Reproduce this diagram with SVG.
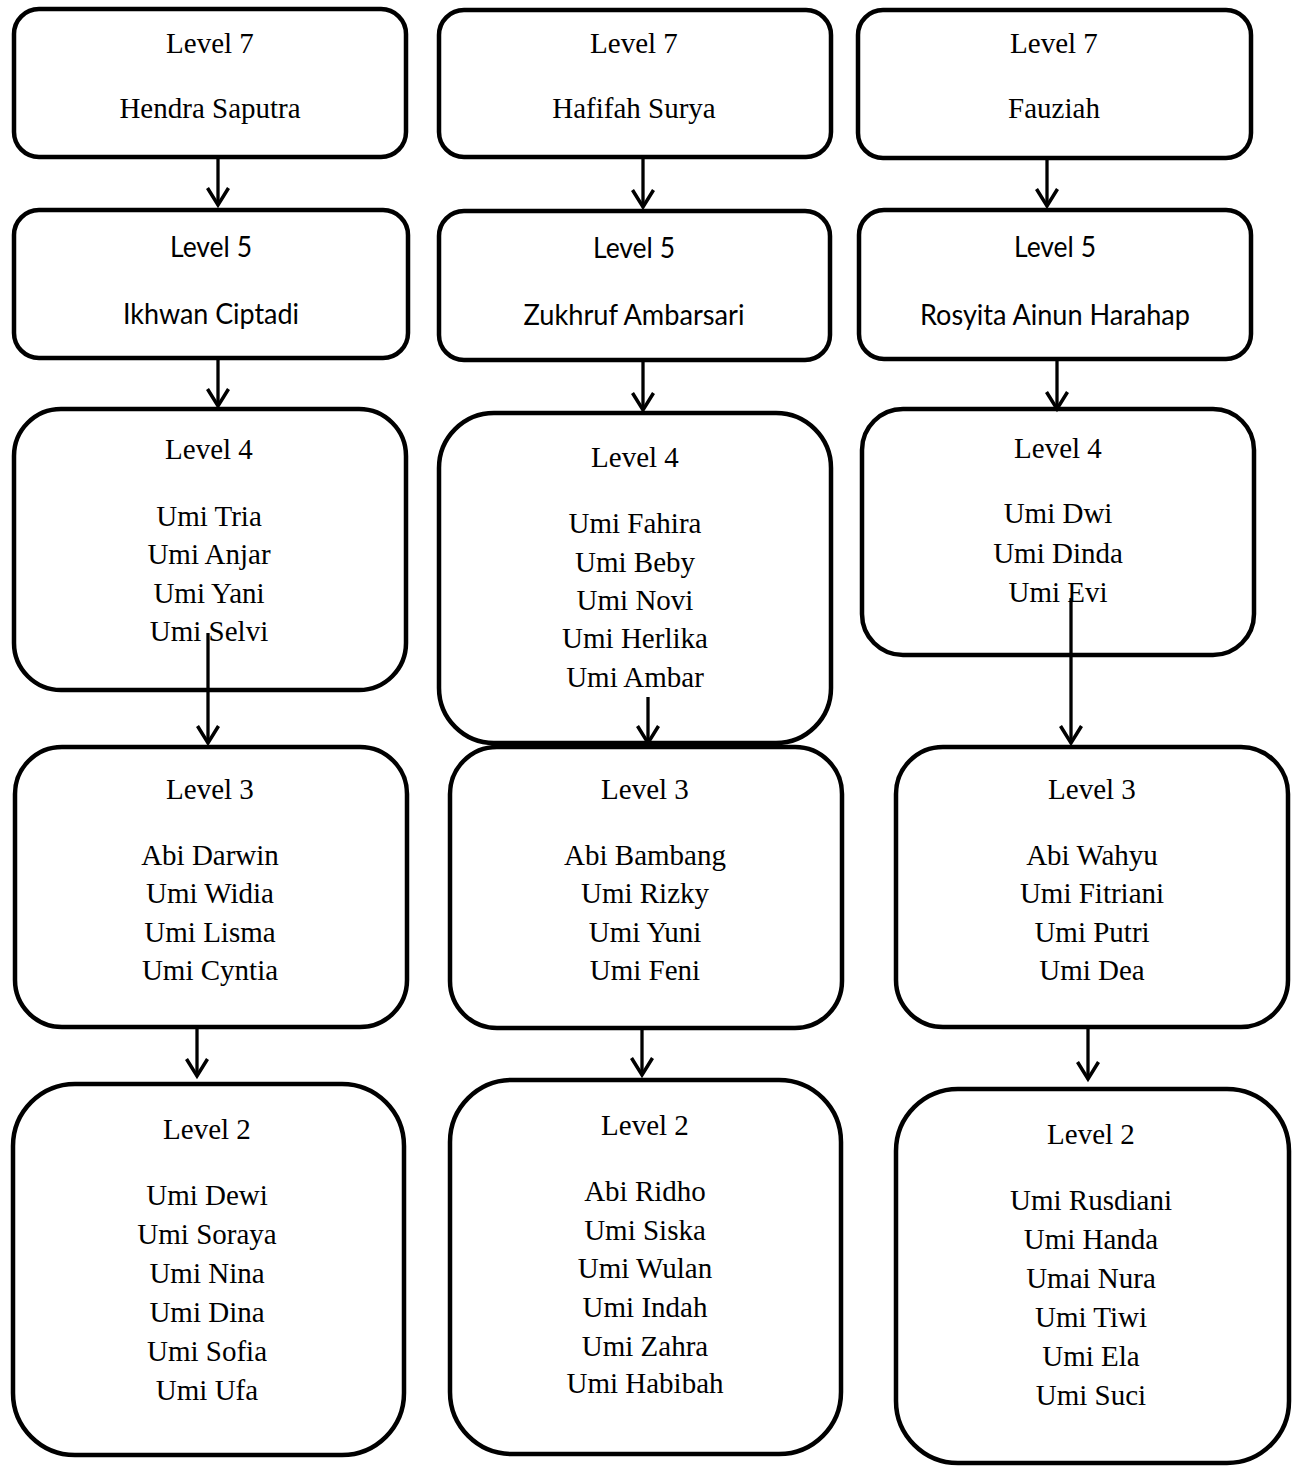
<svg xmlns="http://www.w3.org/2000/svg" width="1299" height="1466" viewBox="0 0 1299 1466">
<style>
.box{fill:#fff;stroke:#000;stroke-width:4.5}
.t{font-family:"Liberation Serif","Times New Roman",serif;font-size:29px;text-anchor:middle;fill:#000}
.s{font-family:Lato,"Open Sans",sans-serif;font-size:29px;text-anchor:middle;fill:#000}
.c{stroke:#000;stroke-width:3.3;fill:none}
</style>
<defs>
<marker id="ah" markerUnits="userSpaceOnUse" viewBox="-22 -15 26 30" refX="0" refY="0" markerWidth="26" markerHeight="30" orient="auto" overflow="visible">
<path d="M-17,-10.5 L0,0 L-17,10.5" fill="none" stroke="#000" stroke-width="3.5" stroke-linejoin="miter"/>
</marker>
</defs>
<rect width="1299" height="1466" fill="#fff"/>

<g id="l7a"><rect class="box" x="14" y="9" width="392" height="148" rx="25"/>
<text class="t" x="210" y="53">Level 7</text><text class="t" x="210" y="118">Hendra Saputra</text></g>
<g id="l7b"><rect class="box" x="439" y="10" width="392" height="147" rx="25"/>
<text class="t" x="634" y="53">Level 7</text><text class="t" x="634" y="118">Hafifah Surya</text></g>
<g id="l7c"><rect class="box" x="858" y="10" width="393" height="148" rx="25"/>
<text class="t" x="1054" y="53">Level 7</text><text class="t" x="1054" y="118">Fauziah</text></g>

<g id="l5a"><rect class="box" x="14" y="210" width="394" height="148" rx="25"/>
<text class="s" x="211" y="257" textLength="82" lengthAdjust="spacingAndGlyphs">Level 5</text><text class="s" x="211" y="324" textLength="176" lengthAdjust="spacingAndGlyphs">Ikhwan Ciptadi</text></g>
<g id="l5b"><rect class="box" x="439" y="211" width="391" height="149" rx="25"/>
<text class="s" x="634" y="258" textLength="82" lengthAdjust="spacingAndGlyphs">Level 5</text><text class="s" x="634" y="325" textLength="221" lengthAdjust="spacingAndGlyphs">Zukhruf Ambarsari</text></g>
<g id="l5c"><rect class="box" x="859" y="210" width="392" height="149" rx="25"/>
<text class="s" x="1055" y="257" textLength="82" lengthAdjust="spacingAndGlyphs">Level 5</text><text class="s" x="1055" y="325" textLength="270" lengthAdjust="spacingAndGlyphs">Rosyita Ainun Harahap</text></g>

<g id="l4a"><rect class="box" x="14" y="409" width="392" height="281" rx="47"/>
<text class="t" x="209" y="459">Level 4</text>
<text class="t" x="209" y="526">Umi Tria</text><text class="t" x="209" y="564">Umi Anjar</text><text class="t" x="209" y="603">Umi Yani</text><text class="t" x="209" y="641">Umi Selvi</text></g>
<g id="l4b"><rect class="box" x="439" y="413" width="392" height="330" rx="55"/>
<text class="t" x="635" y="467">Level 4</text>
<text class="t" x="635" y="533">Umi Fahira</text><text class="t" x="635" y="572">Umi Beby</text><text class="t" x="635" y="610">Umi Novi</text><text class="t" x="635" y="648">Umi Herlika</text><text class="t" x="635" y="687">Umi Ambar</text></g>
<g id="l4c"><rect class="box" x="862" y="409" width="392" height="246" rx="41"/>
<text class="t" x="1058" y="458">Level 4</text>
<text class="t" x="1058" y="523">Umi Dwi</text><text class="t" x="1058" y="563">Umi Dinda</text><text class="t" x="1058" y="602">Umi Evi</text></g>

<g id="l3a"><rect class="box" x="15" y="747" width="392" height="280" rx="47"/>
<text class="t" x="210" y="799">Level 3</text>
<text class="t" x="210" y="865">Abi Darwin</text><text class="t" x="210" y="903">Umi Widia</text><text class="t" x="210" y="942">Umi Lisma</text><text class="t" x="210" y="980">Umi Cyntia</text></g>
<g id="l3b"><rect class="box" x="450" y="747" width="392" height="281" rx="47"/>
<text class="t" x="645" y="799">Level 3</text>
<text class="t" x="645" y="865">Abi Bambang</text><text class="t" x="645" y="903">Umi Rizky</text><text class="t" x="645" y="942">Umi Yuni</text><text class="t" x="645" y="980">Umi Feni</text></g>
<g id="l3c"><rect class="box" x="896" y="747" width="392" height="280" rx="47"/>
<text class="t" x="1092" y="799">Level 3</text>
<text class="t" x="1092" y="865">Abi Wahyu</text><text class="t" x="1092" y="903">Umi Fitriani</text><text class="t" x="1092" y="942">Umi Putri</text><text class="t" x="1092" y="980">Umi Dea</text></g>

<g id="l2a"><rect class="box" x="13" y="1084" width="391" height="371" rx="62"/>
<text class="t" x="207" y="1139">Level 2</text>
<text class="t" x="207" y="1205">Umi Dewi</text><text class="t" x="207" y="1244">Umi Soraya</text><text class="t" x="207" y="1283">Umi Nina</text><text class="t" x="207" y="1322">Umi Dina</text><text class="t" x="207" y="1361">Umi Sofia</text><text class="t" x="207" y="1400">Umi Ufa</text></g>
<g id="l2b"><rect class="box" x="450" y="1080" width="391" height="374" rx="62"/>
<text class="t" x="645" y="1135">Level 2</text>
<text class="t" x="645" y="1201">Abi Ridho</text><text class="t" x="645" y="1240">Umi Siska</text><text class="t" x="645" y="1278">Umi Wulan</text><text class="t" x="645" y="1317">Umi Indah</text><text class="t" x="645" y="1356">Umi Zahra</text><text class="t" x="645" y="1393">Umi Habibah</text></g>
<g id="l2c"><rect class="box" x="896" y="1089" width="393" height="374" rx="62"/>
<text class="t" x="1091" y="1144">Level 2</text>
<text class="t" x="1091" y="1210">Umi Rusdiani</text><text class="t" x="1091" y="1249">Umi Handa</text><text class="t" x="1091" y="1288">Umai Nura</text><text class="t" x="1091" y="1327">Umi Tiwi</text><text class="t" x="1091" y="1366">Umi Ela</text><text class="t" x="1091" y="1405">Umi Suci</text></g>

<g id="connectors">
<line class="c" x1="218" y1="159" x2="218" y2="205" marker-end="url(#ah)"/>
<line class="c" x1="643" y1="159" x2="643" y2="207" marker-end="url(#ah)"/>
<line class="c" x1="1047" y1="160" x2="1047" y2="206" marker-end="url(#ah)"/>
<line class="c" x1="218" y1="360" x2="218" y2="406" marker-end="url(#ah)"/>
<line class="c" x1="643" y1="362" x2="643" y2="410" marker-end="url(#ah)"/>
<line class="c" x1="1057" y1="361" x2="1057" y2="409" marker-end="url(#ah)"/>
<line class="c" x1="208" y1="633" x2="208" y2="743" marker-end="url(#ah)"/>
<line class="c" x1="648" y1="697" x2="648" y2="743" marker-end="url(#ah)"/>
<line class="c" x1="1071" y1="598" x2="1071" y2="743" marker-end="url(#ah)"/>
<line class="c" x1="197" y1="1029" x2="197" y2="1076" marker-end="url(#ah)"/>
<line class="c" x1="642" y1="1030" x2="642" y2="1075" marker-end="url(#ah)"/>
<line class="c" x1="1088" y1="1029" x2="1088" y2="1079" marker-end="url(#ah)"/>
</g>
</svg>
